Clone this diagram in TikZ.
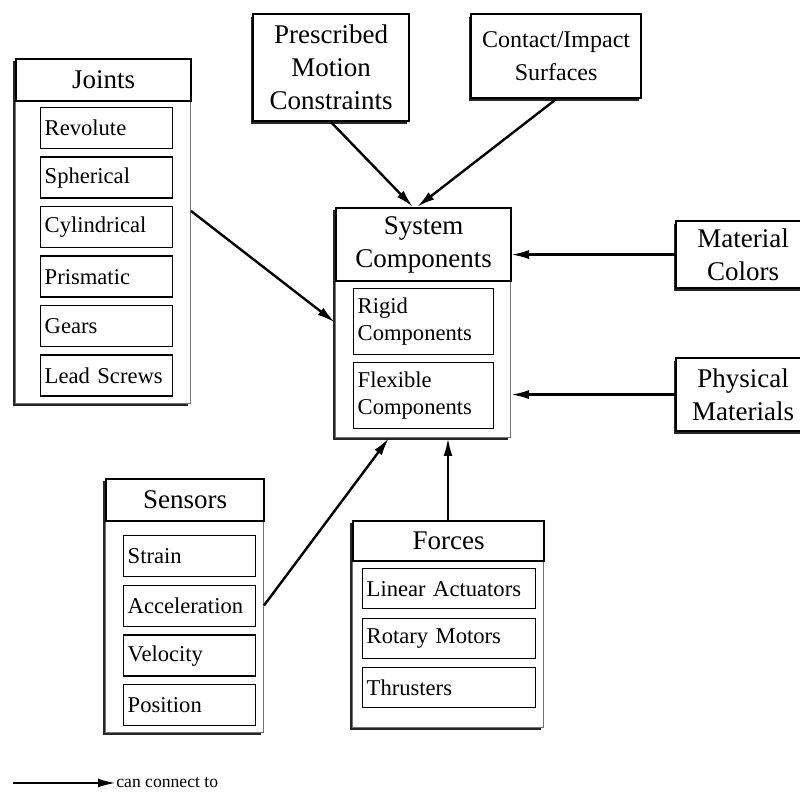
\documentclass[tikz,border=0pt]{standalone}
\usepackage{fontspec}
\setmainfont{Liberation Serif}
\usetikzlibrary{arrows.meta, shadows}

\begin{document}
\begin{tikzpicture}[x=0.5pt, y=-0.5pt]
        \tikzset{group/.style = {shape=rectangle,draw=black!55,line width=0.5pt,fill=white,anchor=north west,inner sep=0pt,
            drop shadow={shadow xshift=-1.3pt,shadow yshift=-1.3pt,opacity=1,fill=black!85}}}
        \tikzset{head/.style = {shape=rectangle,draw,line width=1.1pt,fill=white,anchor=north west,inner sep=1pt,align=center,
            font=\fontsize{13.5}{16.5}\selectfont}}
        \tikzset{box/.style = {head,drop shadow={shadow xshift=-1.3pt,shadow yshift=-1.3pt,opacity=1,fill=black!85}}}
        \tikzset{item/.style = {shape=rectangle,draw,line width=0.7pt,anchor=north west,inner xsep=2pt,inner ysep=0pt,align=left,
            font=\fontsize{11.3}{13.5}\selectfont}}
        \tikzset{edge/.style = {-{Latex[length=9pt,width=4.5pt]},line width=1.2pt}}
        \useasboundingbox (0,0) rectangle (800,795);

        % joints
        \node[group,minimum width=87.5pt,minimum height=172.5pt] (joints) at (15,58) {};
        \node[head,minimum width=87.5pt,minimum height=21pt] (jointshead) at (joints.north west) {Joints};
        \node[item,text width=62pt,minimum height=20.5pt] (revolute) at (40,107) {Revolute};
        \node[item,text width=62pt,minimum height=20.5pt] (spherical) at (40,156.5) {Spherical};
        \node[item,text width=62pt,minimum height=20.5pt] (cylindrical) at (40,206) {Cylindrical};
        \node[item,text width=62pt,minimum height=20.5pt] (prismatic) at (40,255.5) {Prismatic};
        \node[item,text width=62pt,minimum height=20.5pt] (gears) at (40,305) {Gears};
        \node[item,text width=62pt,minimum height=20.5pt] (leadscrews) at (40,354.5) {Lead Screws};

        % system components
        \node[group,minimum width=87.5pt,minimum height=115pt] (system) at (335,207) {};
        \node[head,minimum width=87.5pt,minimum height=36.5pt] (systemhead) at (system.north west) {System\\Components};
        \node[item,text width=66pt,minimum height=33pt] (rigid) at (353,288) {Rigid\\Components};
        \node[item,text width=66pt,minimum height=33pt] (flexible) at (353,362) {Flexible\\Components};

        % sensors
        \node[group,minimum width=79pt,minimum height=127pt] (sensors) at (105,478) {};
        \node[head,minimum width=79pt,minimum height=21pt] (sensorshead) at (sensors.north west) {Sensors};
        \node[item,text width=62pt,minimum height=20.5pt] (strain) at (123,535) {Strain};
        \node[item,text width=62pt,minimum height=20.5pt] (acceleration) at (123,585) {Acceleration};
        \node[item,text width=62pt,minimum height=20.5pt] (velocity) at (123,634.5) {Velocity};
        \node[item,text width=62pt,minimum height=20.5pt] (position) at (123,684) {Position};

        % forces
        \node[group,minimum width=95.5pt,minimum height=103.5pt] (forces) at (352,520) {};
        \node[head,minimum width=95.5pt,minimum height=20pt] (forceshead) at (forces.north west) {Forces};
        \node[item,text width=82.5pt,minimum height=20pt] (linear) at (362,568) {Linear Actuators};
        \node[item,text width=82.5pt,minimum height=20pt] (rotary) at (362,618) {Rotary Motors};
        \node[item,text width=82.5pt,minimum height=20pt] (thrusters) at (362,667) {Thrusters};

        % single boxes
        \node[box,minimum width=78pt,minimum height=53.5pt] (prescribed) at (252,13) {Prescribed\\Motion\\Constraints};
        \node[box,minimum width=85pt,minimum height=42pt,font=\fontsize{12}{16.5}\selectfont] (contact) at (470,13) {Contact/Impact\\Surfaces};
        \node[box,minimum width=67pt,minimum height=33.5pt] (material) at (675,220) {Material\\Colors};
        \node[box,minimum width=67pt,minimum height=36.5pt] (physical) at (675,357) {Physical\\Materials};

        \draw[edge] ([yshift=10pt]joints.east) to (system.west);
        \draw[edge] (prescribed.south) to ([xshift=-5pt]system.north);
        \draw[edge] (contact.south) to ([xshift=-3pt]system.north);
        \draw[edge] (material.west) to (material.west -| system.east);
        \draw[edge] (physical.west) to (physical.west -| system.east);
        \draw[edge] (forces.north) to (forces.north |- system.south);
        \draw[edge] (sensors.east) to ([xshift=-17pt]system.south);

        % legend
        \coordinate (legstart) at (13,783);
        \node[anchor=west,inner sep=0pt,font=\fontsize{8.8}{10}\selectfont] (legend) at (116,783) {can connect to};
        \draw[edge] (legstart) to (legend.west);
      \end{tikzpicture}
\end{document}
